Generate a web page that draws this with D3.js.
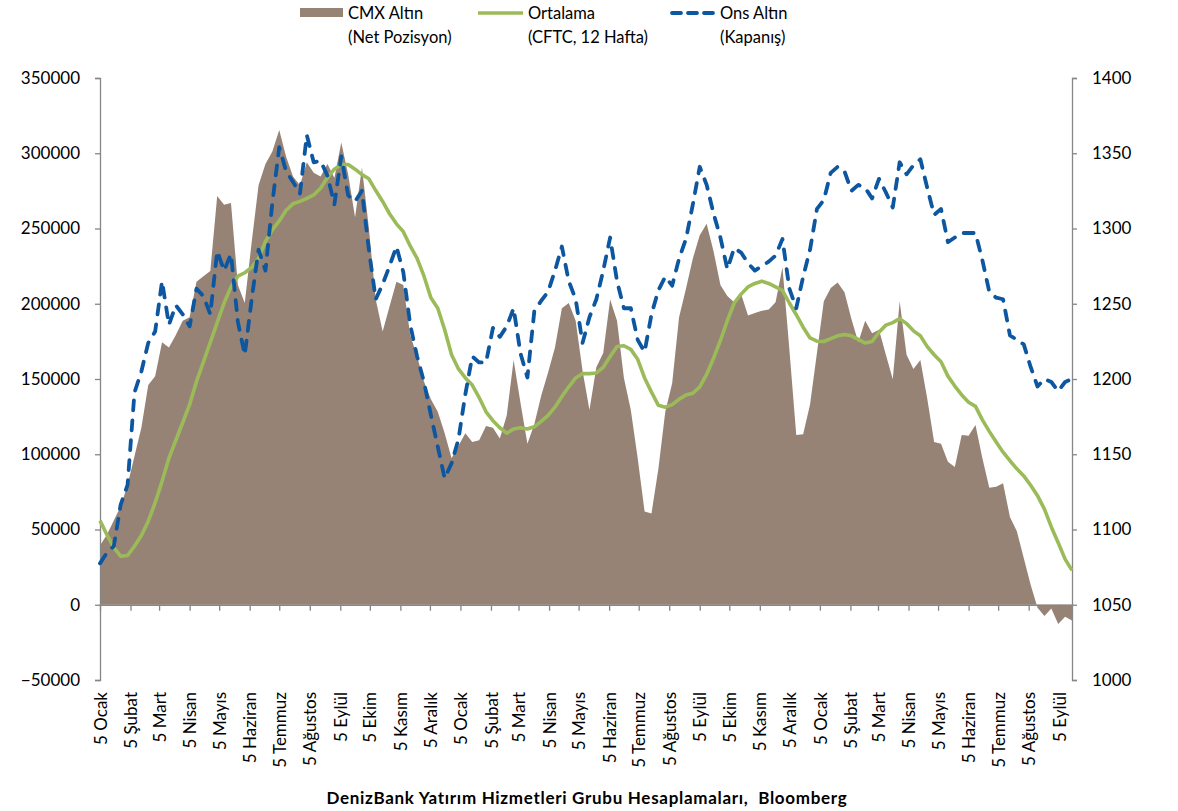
<!DOCTYPE html>
<html>
<head>
<meta charset="utf-8">
<script src="https://cdn.jsdelivr.net/npm/d3@7"></script>
<style>
  html, body { margin: 0; padding: 0; background: #fff; }
  svg { display: block; }
  text { font-family: Lato, "Open Sans", sans-serif; fill: #000; }
</style>
</head>
<body>
<svg id="chart" width="1178" height="811"></svg>
<script>
// ---------- DATA ----------
const startDate = new Date(2016, 0, 5);   // first weekly observation (Tuesday)
const weekCount = 142;                      // weekly observations through 18 Sep 2018

// CMX Altın (Net Pozisyon) – contracts
const netPosition = [
  39300, 46500, 55900, 65400, 79600, 98600, 117600, 146000, 151900, 174400,
  170900, 179200, 188700, 191000, 214700, 218300, 221800, 271600, 265700, 266900,
  212400, 200500, 240800, 278700, 292900, 301200, 315400, 297700, 284600, 278700,
  294100, 287000, 284600, 292900, 283500, 307200, 285800, 257400, 290600, 250300,
  202900, 181500, 198100, 214700, 212400, 179200, 165000, 148400, 136500, 128200,
  114000, 97400, 105700, 114000, 108100, 109300, 118700, 117600, 110400, 125800,
  162600, 134100, 106900, 119900, 138900, 154300, 170900, 197000, 200500, 188700,
  155500, 129400, 157800, 167300, 202900, 188700, 150700, 129400, 97400, 61900,
  60700, 90300, 128200, 147200, 191000, 210000, 230100, 245500, 253100, 234900,
  212400, 205200, 201000, 206400, 192200, 193900, 195300, 196200, 201000, 224200,
  169700, 112800, 113300, 133000, 167300, 201700, 210500, 214200, 207600, 189800,
  174400, 188700, 180400, 182700, 166100, 149800, 201700, 166100, 156700, 162600,
  137000, 108100, 106900, 95000, 91500, 112800, 112300, 119400, 97400, 77700,
  78400, 80800, 58300, 48800, 31000, 13300, -2000, -7500, -2500, -12800,
  -8000, -10400
];

// Ortalama (CFTC, 12 Hafta)
const average12w = [
  55900, 46500, 38200, 32200, 32700, 38900, 46000, 55500, 67800, 82000,
  97400, 109300, 121100, 133000, 148400, 161400, 174400, 187500, 200500, 211200,
  218300, 220600, 224200, 230100, 241400, 249100, 255000, 262100, 266400, 268000,
  270000, 272300, 276800, 283900, 289400, 292500, 292500, 289400, 285800, 283000,
  275200, 268000, 259800, 253100, 247900, 238400, 230100, 218300, 204000, 197000,
  182700, 166100, 156700, 150700, 146000, 137700, 128200, 122300, 117600, 114000,
  116800, 117600, 116800, 118300, 121800, 125800, 131300, 138400, 144800, 150700,
  153600, 153600, 154000, 157800, 165000, 171600, 172100, 169700, 163100, 150700,
  141300, 132500, 131300, 133000, 136500, 139400, 140500, 144800, 153100, 163800,
  175600, 188700, 200500, 206400, 211200, 213500, 215000, 213500, 211200, 208800,
  200500, 192700, 184400, 177300, 175100, 174900, 176800, 178700, 179600, 178700,
  176300, 173900, 174900, 181100, 185800, 187500, 190100, 186800, 182000, 178700,
  171500, 166100, 161400, 151900, 145300, 139400, 134600, 131800, 122800, 115200,
  108100, 101400, 95700, 90300, 85600, 79400, 72500, 63500, 51700, 41200,
  30300, 22800
];

// Ons Altın (Kapanış) – USD/ons
const goldClose = [
  1077.5, 1084.6, 1088.9, 1116.6, 1129.6, 1191, 1205, 1224, 1231.5, 1265,
  1236, 1249, 1243, 1235, 1260, 1255, 1243, 1285, 1272, 1283,
  1238, 1216, 1253, 1286, 1272, 1317, 1354, 1338, 1331, 1323,
  1362, 1344, 1345, 1335, 1316, 1348, 1322, 1318, 1325, 1286,
  1253, 1263, 1275, 1288, 1271, 1236, 1215, 1198, 1176, 1155,
  1134, 1144, 1160, 1190, 1215, 1211, 1211, 1234, 1228, 1235,
  1247, 1217, 1201, 1245, 1252, 1258, 1272, 1288, 1265, 1253,
  1224, 1241, 1253, 1272, 1294, 1265, 1247, 1247, 1226, 1218,
  1243, 1259, 1268, 1262, 1280, 1293, 1316, 1341, 1329, 1310,
  1294, 1273, 1287, 1284, 1277, 1272, 1275, 1278, 1282, 1293,
  1260, 1247, 1268, 1286, 1313, 1319, 1337, 1341, 1338, 1325,
  1329, 1327, 1320, 1333, 1324, 1314, 1344, 1336, 1342, 1346,
  1327, 1309, 1313, 1291, 1294, 1297, 1297, 1297, 1279, 1258,
  1254, 1253, 1229, 1226, 1223, 1208, 1195, 1200, 1198, 1192,
  1198, 1200
];

// X-axis tick labels (5th of each month)
const monthNames = ["Ocak","Şubat","Mart","Nisan","Mayıs","Haziran","Temmuz","Ağustos","Eylül","Ekim","Kasım","Aralık"];
const tickMonthCount = 33;   // 5 Ocak 2016 ... 5 Eylül 2018

const leftTicks  = [-50000, 0, 50000, 100000, 150000, 200000, 250000, 300000, 350000];
const rightTicks = [1000, 1050, 1100, 1150, 1200, 1250, 1300, 1350, 1400];

const legendLabels = [
  ["CMX Altın", "(Net Pozisyon)"],
  ["Ortalama", "(CFTC, 12 Hafta)"],
  ["Ons Altın", "(Kapanış)"]
];
const sourceText = "DenizBank Yatırım Hizmetleri Grubu Hesaplamaları,  Bloomberg";

// ---------- BUILD ----------
const dates = d3.range(weekCount).map(i => d3.timeDay.offset(startDate, 7 * i));
const rows = dates.map((d, i) => ({ date: d, net: netPosition[i], avg: average12w[i], gold: goldClose[i] }));
const tickDates = d3.range(tickMonthCount).map(m => new Date(2016, m, 5));

const COL_AREA = "#978376", COL_GREEN = "#9bbb59", COL_BLUE = "#0d56a0", COL_AXIS = "#868686";
const DASH = "10,10";

const svg = d3.select("#chart");
const plot = { left: 100, right: 1072, top: 78, bottom: 680 };

const x = d3.scaleTime().domain([dates[0], dates[dates.length - 1]]).range([plot.left, plot.right]);
const yL = d3.scaleLinear().domain([-50000, 350000]).range([plot.bottom, plot.top]);
const yR = d3.scaleLinear().domain([1000, 1400]).range([plot.bottom, plot.top]);

// area
svg.append("path")
  .datum(rows)
  .attr("fill", COL_AREA)
  .attr("d", d3.area().x(d => x(d.date)).y0(yL(0)).y1(d => yL(d.net)));

// axes
function styleAxis(g) {
  g.selectAll("path.domain").attr("stroke", COL_AXIS).attr("stroke-width", 1.3);
  g.selectAll(".tick line").attr("stroke", COL_AXIS).attr("stroke-width", 1.3);
  g.selectAll("text").style("font-size", "17px").style("font-family", "Lato, 'Open Sans', sans-serif").attr("fill", "#000");
}

const gL = svg.append("g").attr("transform", `translate(${plot.left},0)`)
  .call(d3.axisLeft(yL).tickValues(leftTicks).tickFormat(d3.format("d")).tickSizeInner(5).tickSizeOuter(5).tickPadding(15));
styleAxis(gL);

const gR = svg.append("g").attr("transform", `translate(${plot.right},0)`)
  .call(d3.axisRight(yR).tickValues(rightTicks).tickFormat(d3.format("d")).tickSizeInner(5).tickSizeOuter(5).tickPadding(15));
styleAxis(gR);

const gX = svg.append("g").attr("transform", `translate(0,${yL(0)})`)
  .call(d3.axisBottom(x).tickValues(tickDates).tickFormat(d => "5 " + monthNames[d.getMonth()]).tickSizeInner(6).tickSizeOuter(0));
styleAxis(gX);
gX.selectAll(".tick text")
  .attr("transform", "rotate(-90)")
  .attr("x", -(692 - yL(0)))
  .attr("y", 0)
  .attr("dy", "0.36em")
  .attr("text-anchor", "end");

// lines
svg.append("path")
  .datum(rows)
  .attr("fill", "none")
  .attr("stroke", COL_GREEN)
  .attr("stroke-width", 3.6)
  .attr("stroke-linejoin", "round")
  .attr("d", d3.line().x(d => x(d.date)).y(d => yL(d.avg)));

svg.append("path")
  .datum(rows)
  .attr("fill", "none")
  .attr("stroke", COL_BLUE)
  .attr("stroke-width", 3.8)
  .attr("stroke-linejoin", "round")
  .attr("stroke-linecap", "round")
  .attr("stroke-dasharray", DASH)
  .attr("d", d3.line().x(d => x(d.date)).y(d => yR(d.gold)));

// legend
const lg = svg.append("g");
lg.append("rect").attr("x", 300).attr("y", 8).attr("width", 43).attr("height", 9).attr("fill", COL_AREA);
lg.append("line").attr("x1", 478).attr("x2", 523).attr("y1", 13).attr("y2", 13)
  .attr("stroke", COL_GREEN).attr("stroke-width", 3.6);
lg.append("line").attr("x1", 672).attr("x2", 714).attr("y1", 13).attr("y2", 13)
  .attr("stroke", COL_BLUE).attr("stroke-width", 3.8).attr("stroke-linecap", "round").attr("stroke-dasharray", "9,7");
const legendX = [348, 528, 720];
legendLabels.forEach((lab, i) => {
  lg.append("text").attr("x", legendX[i]).attr("y", 19).style("font-size", "16.5px").text(lab[0]);
  lg.append("text").attr("x", legendX[i]).attr("y", 43).style("font-size", "16.5px").text(lab[1]);
});

// source
svg.append("text")
  .attr("x", 587).attr("y", 804)
  .attr("text-anchor", "middle")
  .style("font-size", "17px")
  .style("font-weight", "bold")
  .style("letter-spacing", "0.7px")
  .style("white-space", "pre")
  .text(sourceText);
</script>
</body>
</html>
